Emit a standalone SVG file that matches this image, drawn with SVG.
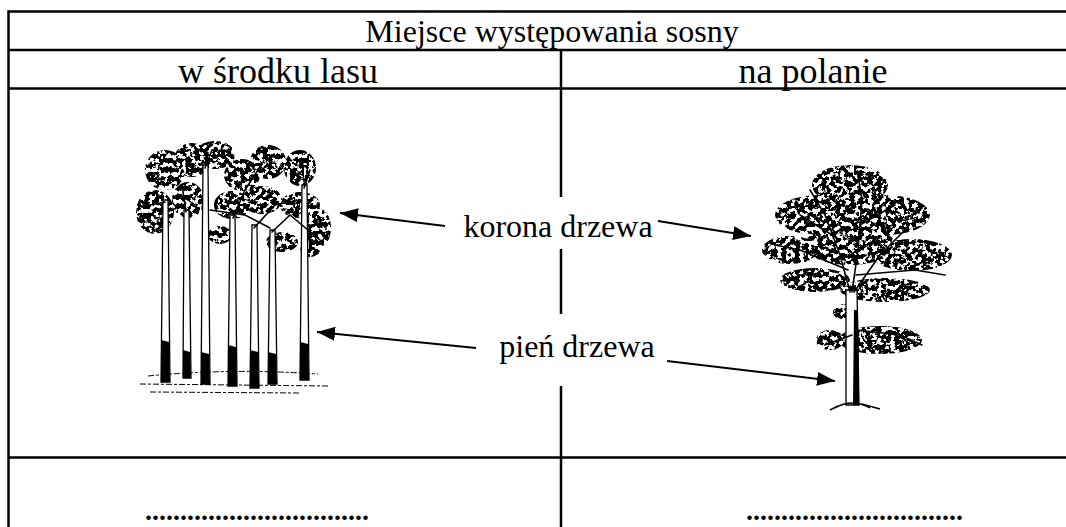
<svg xmlns="http://www.w3.org/2000/svg" width="1066" height="527" viewBox="0 0 1066 527">
  <style>
    .grid { stroke: #000; stroke-width: 2.5; fill: none; }
    .txt { font-family: "Liberation Serif", "Times New Roman", serif; font-size: 32px; fill: #000; text-anchor: middle; }
    .head2 { font-size: 36px; }
    .dots { font-family: "Liberation Serif", "Times New Roman", serif; font-size: 28px; font-weight: bold; fill: #000; }
    .arrow { stroke: #000; stroke-width: 2; fill: none; marker-end: url(#head); }
    .crown { fill: #000; filter: url(#leaf); }
    .trunk { fill: #fff; stroke: #000; stroke-width: 1.3; }
    .branch { stroke: #000; stroke-width: 1.6; fill: none; stroke-linecap: round; }
    .ground { stroke: #000; stroke-width: 1; fill: none; stroke-dasharray: 6 2 3 2; }
  </style>
  <defs>
    <marker id="head" viewBox="0 0 18 14" refX="18" refY="7" markerWidth="18" markerHeight="14" markerUnits="userSpaceOnUse" orient="auto">
      <path d="M0,0 L18,7 L0,14 Z" fill="#000"/>
    </marker>
    <!-- fine, dense ink texture for foliage -->
    <filter id="leaf" x="-10%" y="-10%" width="120%" height="120%">
      <feTurbulence type="fractalNoise" baseFrequency="0.22" numOctaves="3" seed="11" result="noise"/>
      <feColorMatrix in="noise" type="matrix" values="0 0 0 0 0  0 0 0 0 0  0 0 0 0 0  16 0 0 0 -6.9" result="mask"/>
      <feComposite in="SourceGraphic" in2="mask" operator="in"/>
    </filter>
  </defs>

  <rect width="1066" height="527" fill="#fff"/>

  <!-- table -->
  <g id="table" class="grid">
    <line x1="8.5" y1="11.5" x2="1066" y2="11.5"/>
    <line x1="8.5" y1="50" x2="1066" y2="50"/>
    <line x1="8.5" y1="88.5" x2="1066" y2="88.5"/>
    <line x1="8.5" y1="457.5" x2="1066" y2="457.5"/>
    <line x1="8.5" y1="10.3" x2="8.5" y2="527"/>
    <line x1="561" y1="50" x2="561" y2="527"/>
  </g>

  <g id="headers">
    <text class="txt" x="552" y="42">Miejsce występowania sosny</text>
    <text class="txt head2" x="278" y="83">w środku lasu</text>
    <text class="txt head2" x="813" y="83">na polanie</text>
  </g>

  <!-- forest: group of pines -->
  <g id="forest">
    <g class="crown">
      <ellipse cx="155" cy="212" rx="19" ry="22"/>
      <ellipse cx="165" cy="170" rx="20" ry="20"/>
      <ellipse cx="192" cy="160" rx="18" ry="17"/>
      <ellipse cx="215" cy="155" rx="20" ry="14"/>
      <ellipse cx="242" cy="175" rx="18" ry="16"/>
      <ellipse cx="268" cy="162" rx="18" ry="17"/>
      <ellipse cx="300" cy="168" rx="16" ry="18"/>
      <ellipse cx="188" cy="200" rx="16" ry="18"/>
      <ellipse cx="232" cy="205" rx="18" ry="14"/>
      <ellipse cx="262" cy="200" rx="20" ry="14"/>
      <ellipse cx="300" cy="205" rx="20" ry="13"/>
      <ellipse cx="318" cy="228" rx="13" ry="20"/>
      <ellipse cx="282" cy="242" rx="16" ry="10"/>
      <ellipse cx="220" cy="235" rx="12" ry="9"/>
      <ellipse cx="310" cy="250" rx="10" ry="7"/>
    </g>
    <g class="trunk">
      <path d="M163,200 L168,200 L170,382 L161,382 Z"/>
      <path d="M184,210 L189,210 L191,378 L183,378 Z"/>
      <path d="M203,165 L208,165 L210,384 L201,384 Z"/>
      <path d="M230,215 L235,215 L237,386 L228,386 Z"/>
      <path d="M252,225 L257,225 L259,388 L250,388 Z"/>
      <path d="M270,230 L275,230 L277,384 L268,384 Z"/>
      <path d="M302,185 L307,185 L309,380 L300,380 Z"/>
    </g>
    <g fill="#000">
      <path d="M161,340 L169,342 L170,382 L161,382 Z"/>
      <path d="M183,350 L190,352 L191,378 L183,378 Z"/>
      <path d="M201,352 L209,354 L210,384 L201,384 Z"/>
      <path d="M228,345 L236,347 L237,386 L228,386 Z"/>
      <path d="M250,350 L258,352 L259,388 L250,388 Z"/>
      <path d="M268,352 L276,354 L277,384 L268,384 Z"/>
      <path d="M300,342 L308,344 L309,380 L300,380 Z"/>
    </g>
    <g class="branch">
      <path d="M205,168 L212,150"/>
      <path d="M233,218 L245,190 L258,170"/>
      <path d="M254,228 L275,205 L300,200"/>
      <path d="M272,232 L290,215 L320,240"/>
      <path d="M304,188 L310,170"/>
      <path d="M186,212 L182,185"/>
      <path d="M165,202 L150,205"/>
      <path d="M210,210 L245,215 L270,228"/>
    </g>
    <g class="ground">
      <path d="M148,376 Q230,368 318,374"/>
      <path d="M140,384 L330,386"/>
      <path d="M150,392 L300,393"/>
    </g>
  </g>

  <!-- solitary pine on a clearing -->
  <g id="pine">
    <g class="crown">
      <ellipse cx="850" cy="185" rx="38" ry="20"/>
      <ellipse cx="820" cy="215" rx="45" ry="20"/>
      <ellipse cx="885" cy="215" rx="45" ry="20"/>
      <ellipse cx="790" cy="250" rx="28" ry="14"/>
      <ellipse cx="850" cy="245" rx="45" ry="20"/>
      <ellipse cx="912" cy="255" rx="40" ry="16"/>
      <ellipse cx="815" cy="280" rx="35" ry="12"/>
      <ellipse cx="885" cy="290" rx="45" ry="12"/>
      <ellipse cx="880" cy="340" rx="42" ry="14"/>
      <ellipse cx="830" cy="340" rx="14" ry="10"/>
      <ellipse cx="845" cy="312" rx="12" ry="8"/>
    </g>
    <path class="trunk" d="M846,290 L857,290 L859,405 L846,405 Z"/>
    <path d="M854,310 L858,310 L859,405 L853,405 Z" fill="#000"/>
    <g class="branch">
      <path d="M850,292 L840,255 L825,215 L810,190"/>
      <path d="M852,292 L858,250 L862,200 L858,175"/>
      <path d="M854,292 L880,255 L905,230"/>
      <path d="M848,270 L800,250 L775,245"/>
      <path d="M856,275 L915,270 L945,275"/>
      <path d="M840,240 L800,215"/>
      <path d="M860,225 L895,205"/>
      <path d="M857,330 L900,335 L922,345"/>
      <path d="M852,335 L825,345"/>
    </g>
    <path d="M835,408 Q852,398 870,408 M838,406 L830,410 M862,404 L880,409" stroke="#000" stroke-width="1.4" fill="none"/>
  </g>

  <!-- pointer labels -->
  <g id="labels">
    <rect x="446" y="197" width="212" height="52" fill="#fff"/>
    <text class="txt" x="558" y="237">korona drzewa</text>
    <rect x="478" y="314" width="188" height="72" fill="#fff"/>
    <text class="txt" x="577" y="357">pień drzewa</text>
  </g>

  <g id="connectors">
    <line class="arrow" x1="445" y1="226" x2="340" y2="213"/>
    <line class="arrow" x1="658" y1="221" x2="751" y2="236"/>
    <line class="arrow" x1="476" y1="348" x2="317" y2="332"/>
    <line class="arrow" x1="667" y1="361" x2="835" y2="381"/>
  </g>

  <!-- answer lines -->
  <g id="answers">
    <text class="dots" x="145" y="520">................................</text>
    <text class="dots" x="746" y="520">...............................</text>
  </g>
</svg>
